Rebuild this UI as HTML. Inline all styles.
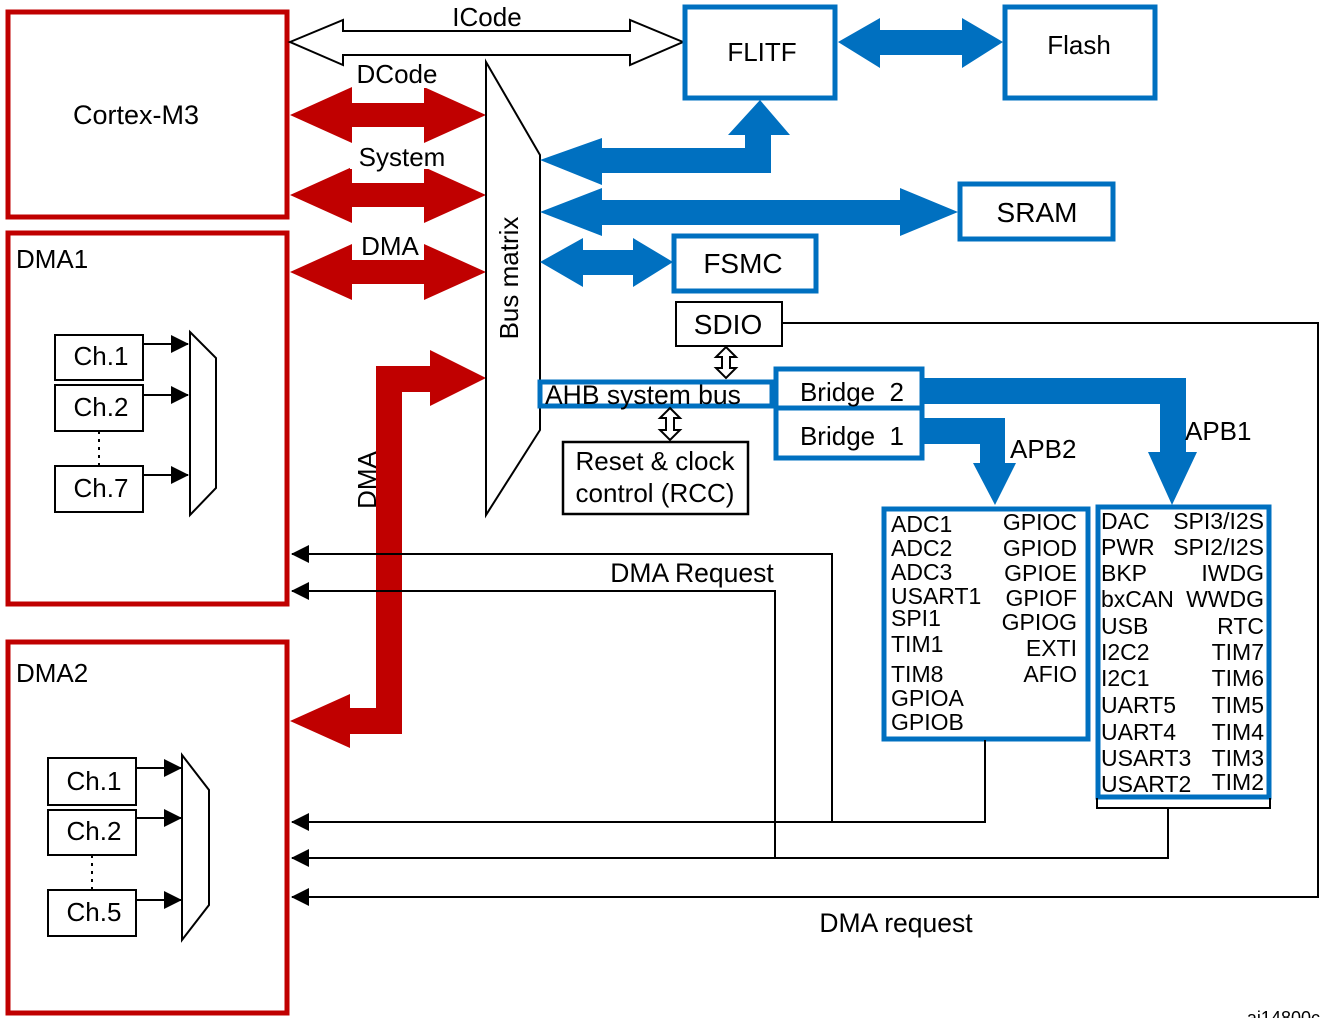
<!DOCTYPE html>
<html><head><meta charset="utf-8"><style>
body{margin:0;background:#fff}
svg{display:block}
text{font-family:"Liberation Sans",sans-serif;fill:#000}
.n{font-family:"Liberation Sans Narrow","Liberation Sans",sans-serif;font-size:23px}
</style></head><body>
<svg width="1332" height="1018" viewBox="0 0 1332 1018" xmlns="http://www.w3.org/2000/svg">
<defs>
<marker id="ah2" markerWidth="18" markerHeight="18" refX="17" refY="9" orient="auto" markerUnits="userSpaceOnUse"><path d="M0,0 L18,9 L0,18 z" fill="#000"/></marker>
</defs>
<g fill="none" stroke="#c00000" stroke-width="5">
<rect x="8" y="12" width="279" height="205"/>
<rect x="8" y="233" width="279" height="371"/>
<rect x="8" y="642" width="279" height="371"/>
</g>
<text x="136" y="124" font-size="27" text-anchor="middle">Cortex-M3</text>
<text x="16" y="268" font-size="26">DMA1</text>
<text x="16" y="682" font-size="26">DMA2</text>
<path d="M290,42 L343,20 L343,31 L630,31 L630,20 L683,42 L630,65 L630,55 L343,55 L343,65 Z" fill="#fff" stroke="#000" stroke-width="2"/>
<text x="487" y="26" font-size="26" text-anchor="middle">ICode</text>
<g fill="#c00000">
<path d="M290,115 L352,87 L352,103 L424,103 L424,87 L486,115 L424,143 L424,127 L352,127 L352,143 Z"/>
<path d="M290,195 L352,167 L352,183 L424,183 L424,167 L486,195 L424,223 L424,207 L352,207 L352,223 Z"/>
<path d="M290,272 L352,244 L352,260 L424,260 L424,244 L486,272 L424,300 L424,284 L352,284 L352,300 Z"/>
<path d="M486,378 L430,350 L430,366 L376,366 L376,708 L350,708 L350,694 L290,721 L350,748 L350,734 L402,734 L402,392 L430,392 L430,406 Z"/>
</g>
<rect x="352" y="62" width="90" height="26" fill="#fff"/>
<text x="397" y="83" font-size="26" text-anchor="middle">DCode</text>
<rect x="350" y="143" width="100" height="26" fill="#fff"/>
<text x="402" y="166" font-size="26" text-anchor="middle">System</text>
<rect x="356" y="232" width="68" height="24" fill="#fff"/>
<text x="390" y="255" font-size="26" text-anchor="middle">DMA</text>
<text transform="translate(376,480) rotate(-90)" font-size="26" text-anchor="middle">DMA</text>
<path d="M486,62 L540,155 L540,430 L486,515 Z" fill="none" stroke="#000" stroke-width="2"/>
<text transform="translate(518,278) rotate(-90)" font-size="26" text-anchor="middle">Bus matrix</text>
<g fill="none" stroke="#0070c0" stroke-width="5">
<rect x="685" y="7" width="150" height="91"/>
<rect x="1005" y="7" width="150" height="91"/>
<rect x="960" y="184" width="153" height="55"/>
<rect x="674" y="236" width="142" height="55"/>
<rect x="540" y="382" width="232" height="24"/>
<rect x="776" y="369" width="146" height="89"/>
<line x1="776" y1="408" x2="922" y2="408"/>
<rect x="884" y="509" width="204" height="230"/>
<rect x="1098" y="507" width="171" height="290"/>
</g>
<text x="762" y="61" font-size="26" text-anchor="middle">FLITF</text>
<text x="1079" y="54" font-size="26" text-anchor="middle">Flash</text>
<text x="1037" y="222" font-size="28" text-anchor="middle">SRAM</text>
<text x="743" y="273" font-size="28" text-anchor="middle">FSMC</text>
<text x="545" y="404" font-size="26.5">AHB system bus</text>
<text x="852" y="401" font-size="26" text-anchor="middle">Bridge&#160;&#160;2</text>
<text x="852" y="445" font-size="26" text-anchor="middle">Bridge&#160;&#160;1</text>
<g fill="#0070c0">
<path d="M838,42 L880,18 L880,30 L962,30 L962,18 L1003,42 L962,68 L962,55 L880,55 L880,68 Z"/>
<path d="M540,160 L602,138 L602,148 L745,148 L745,135 L728,135 L760,100 L790,135 L771,135 L771,173 L602,173 L602,185 Z"/>
<path d="M540,212 L602,188 L602,200 L900,200 L900,188 L958,212 L900,236 L900,225 L602,225 L602,236 Z"/>
<path d="M540,262 L583,238 L583,250 L633,250 L633,238 L673,262 L633,287 L633,275 L583,275 L583,287 Z"/>
<path d="M922,378 L1186,378 L1186,452 L1197,452 L1172,505 L1148,452 L1160,452 L1160,404 L922,404 Z"/>
<path d="M922,418 L1005,418 L1005,463 L1016,463 L995,505 L973,463 L980,463 L980,444 L922,444 Z"/>
</g>
<text x="1010" y="458" font-size="26">APB2</text>
<text x="1185" y="440" font-size="26">APB1</text>
<rect x="676" y="302" width="106" height="44" fill="none" stroke="#000" stroke-width="2"/>
<text x="728" y="334" font-size="28" text-anchor="middle">SDIO</text>
<rect x="563" y="442" width="185" height="72" fill="none" stroke="#000" stroke-width="2.5"/>
<text x="655" y="470" font-size="26" text-anchor="middle">Reset &amp; clock</text>
<text x="655" y="502" font-size="26" text-anchor="middle">control (RCC)</text>
<path d="M726,347 L736,357 L730,357 L730,368 L736,368 L726,378 L716,368 L722,368 L722,357 L716,357 Z" fill="#fff" stroke="#000" stroke-width="2"/>
<path d="M670,408 L680,418 L674,418 L674,430 L680,430 L670,440 L660,430 L666,430 L666,418 L660,418 Z" fill="#fff" stroke="#000" stroke-width="2"/>
<g fill="none" stroke="#000" stroke-width="2">
<path d="M782,323 L1318,323 L1318,897 L292,897" marker-end="url(#ah2)"/>
<path d="M832,822 L832,554 L292,554" marker-end="url(#ah2)"/>
<path d="M775,858 L775,591 L292,591" marker-end="url(#ah2)"/>
<path d="M985,740 L985,822 L292,822" marker-end="url(#ah2)"/>
<path d="M1168,808 L1168,858 L292,858" marker-end="url(#ah2)"/>
<path d="M1097,798 L1097,808 L1270,808 L1270,798"/>
</g>
<text x="692" y="582" font-size="26.5" text-anchor="middle">DMA Request</text>
<text x="896" y="932" font-size="26.5" text-anchor="middle">DMA request</text>
<g class="n">
<text x="891" y="532">ADC1</text><text x="891" y="556">ADC2</text><text x="891" y="580">ADC3</text>
<text x="891" y="604">USART1</text><text x="891" y="626">SPI1</text><text x="891" y="652">TIM1</text>
<text x="891" y="682">TIM8</text><text x="891" y="706">GPIOA</text><text x="891" y="730">GPIOB</text>
</g>
<g class="n" text-anchor="end">
<text x="1077" y="530">GPIOC</text><text x="1077" y="556">GPIOD</text><text x="1077" y="581">GPIOE</text>
<text x="1077" y="606">GPIOF</text><text x="1077" y="630">GPIOG</text><text x="1077" y="656">EXTI</text>
<text x="1077" y="682">AFIO</text>
</g>
<g class="n">
<text x="1101" y="529">DAC</text><text x="1101" y="555">PWR</text><text x="1101" y="581">BKP</text>
<text x="1101" y="607">bxCAN</text><text x="1101" y="634">USB</text><text x="1101" y="660">I2C2</text>
<text x="1101" y="686">I2C1</text><text x="1101" y="713">UART5</text><text x="1101" y="740">UART4</text>
<text x="1101" y="766">USART3</text><text x="1101" y="792">USART2</text>
</g>
<g class="n" text-anchor="end">
<text x="1264" y="529">SPI3/I2S</text><text x="1264" y="555">SPI2/I2S</text><text x="1264" y="581">IWDG</text>
<text x="1264" y="607">WWDG</text><text x="1264" y="634">RTC</text><text x="1264" y="660">TIM7</text>
<text x="1264" y="686">TIM6</text><text x="1264" y="713">TIM5</text><text x="1264" y="740">TIM4</text>
<text x="1264" y="766">TIM3</text><text x="1264" y="790">TIM2</text>
</g>
<g fill="none" stroke="#000" stroke-width="2">
<rect x="55" y="335" width="88" height="45"/><rect x="55" y="385" width="88" height="46"/><rect x="55" y="466" width="88" height="46"/>
<line x1="99" y1="431" x2="99" y2="466" stroke-dasharray="3,5"/>
<path d="M190,332 L216,358 L216,488 L190,515 Z"/>
<line x1="143" y1="344" x2="188" y2="344" marker-end="url(#ah2)"/>
<line x1="143" y1="395" x2="188" y2="395" marker-end="url(#ah2)"/>
<line x1="143" y1="475" x2="188" y2="475" marker-end="url(#ah2)"/>
<rect x="48" y="758" width="88" height="47"/><rect x="48" y="810" width="88" height="45"/><rect x="48" y="890" width="88" height="46"/>
<line x1="92" y1="855" x2="92" y2="890" stroke-dasharray="3,5"/>
<path d="M182,755 L209,790 L209,905 L182,940 Z"/>
<line x1="136" y1="768" x2="181" y2="768" marker-end="url(#ah2)"/>
<line x1="136" y1="818" x2="181" y2="818" marker-end="url(#ah2)"/>
<line x1="136" y1="900" x2="181" y2="900" marker-end="url(#ah2)"/>
</g>
<g font-size="26" text-anchor="middle">
<text x="101" y="365">Ch.1</text><text x="101" y="416">Ch.2</text><text x="101" y="497">Ch.7</text>
<text x="94" y="790">Ch.1</text><text x="94" y="840">Ch.2</text><text x="94" y="921">Ch.5</text>
</g>
<text x="1320" y="1024" font-size="18" text-anchor="end">ai14800c</text>
</svg>
</body></html>
